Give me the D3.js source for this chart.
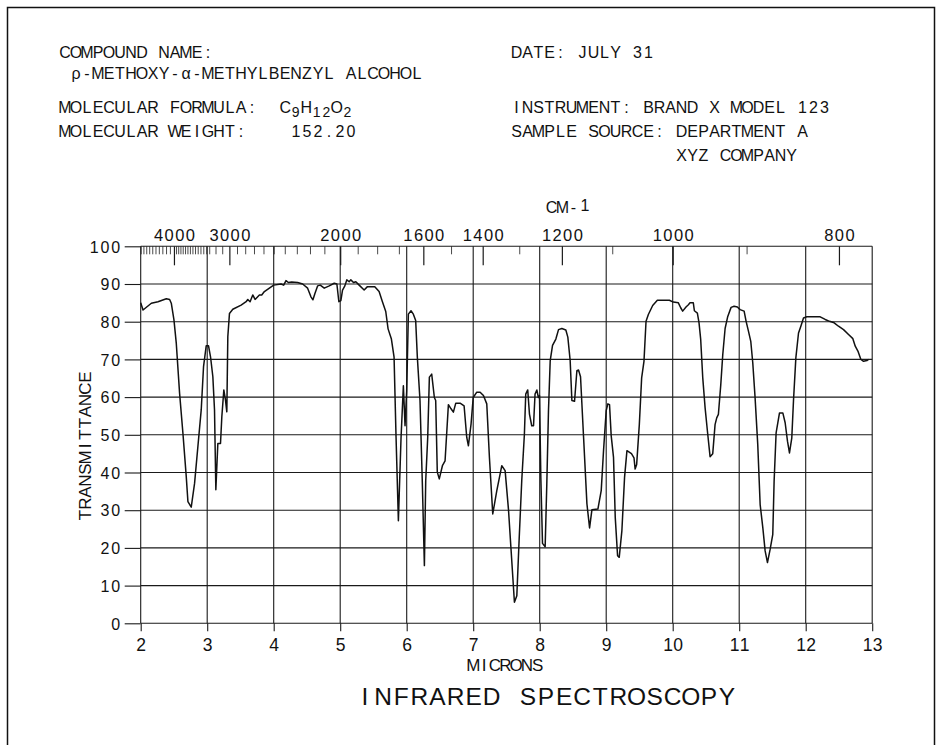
<!DOCTYPE html>
<html>
<head>
<meta charset="utf-8">
<script src="https://cdn.jsdelivr.net/npm/d3@7"></script>
<style>
body{margin:0;background:#fff}
svg{display:block}
text{font-family:"Liberation Sans",Arial,Helvetica,sans-serif;fill:#111}
</style>
</head>
<body>
<svg id="c" width="941" height="745"></svg>
<script>
// ---------------- data ----------------
const microns = [
 2.00,2.035,2.16,2.26,2.385,2.435,2.46,2.50,2.535,2.585,
 2.635,2.685,2.71,2.76,2.81,2.86,2.91,2.945,2.985,3.02,
 3.05,3.085,3.11,3.13,3.16,3.20,3.22,3.25,3.275,3.295,
 3.31,3.335,3.385,3.51,3.585,3.61,3.645,3.685,3.72,3.785,
 3.82,3.86,3.935,4.00,4.11,4.15,4.185,4.22,4.27,4.36,
 4.435,4.51,4.56,4.59,4.62,4.66,4.70,4.76,4.835,4.91,
 4.95,4.98,5.01,5.035,5.07,5.10,5.135,5.16,5.20,5.235,
 5.285,5.36,5.41,5.52,5.585,5.635,5.685,5.72,5.77,5.81,
 5.84,5.875,5.915,5.95,5.975,6.00,6.025,6.065,6.10,6.135,
 6.16,6.20,6.235,6.266,6.286,6.316,6.341,6.376,6.416,6.436,
 6.46,6.49,6.537,6.577,6.627,6.667,6.702,6.738,6.803,6.863,
 6.903,6.928,6.968,7.00,7.054,7.104,7.154,7.204,7.244,7.294,
 7.355,7.43,7.48,7.53,7.57,7.62,7.656,7.69,7.73,7.77,
 7.79,7.82,7.846,7.88,7.907,7.93,7.957,7.98,7.997,8.017,
 8.042,8.082,8.107,8.132,8.158,8.193,8.243,8.283,8.333,8.393,
 8.423,8.458,8.484,8.524,8.559,8.584,8.614,8.66,8.71,8.75,
 8.785,8.875,8.925,8.96,9.00,9.025,9.05,9.075,9.11,9.136,
 9.171,9.196,9.236,9.276,9.312,9.38,9.418,9.435,9.458,9.498,
 9.533,9.568,9.599,9.634,9.699,9.769,9.86,9.95,10.01,10.085,
 10.12,10.15,10.20,10.236,10.26,10.31,10.326,10.371,10.396,10.421,
 10.452,10.487,10.522,10.562,10.602,10.637,10.662,10.687,10.723,10.753,
 10.788,10.828,10.878,10.923,10.973,11.013,11.074,11.104,11.139,11.174,
 11.204,11.239,11.279,11.315,11.355,11.39,11.425,11.465,11.505,11.525,
 11.555,11.606,11.656,11.691,11.726,11.756,11.791,11.816,11.852,11.892,
 11.927,11.967,12.017,12.218,12.293,12.358,12.428,12.493,12.569,12.644,
 12.709,12.745,12.785,12.83,12.87,12.92,12.945
];
const transmittance = [
 85.0,83.1,84.9,85.3,86.1,85.9,84.9,80.5,74.3,61.0,
 50.4,38.9,32.3,30.8,37.1,46.9,56.6,68.1,73.6,73.6,
 70.7,65.4,56.6,35.4,47.7,47.7,54.8,61.9,59.2,56.1,
 76.0,82.2,83.3,84.4,85.3,85.9,85.3,87.1,85.9,87.1,
 87.1,88.0,88.9,89.7,90.0,89.7,90.9,90.4,90.5,90.4,
 90.0,88.9,86.6,85.8,87.5,89.5,89.7,88.9,89.5,90.2,
 90.0,85.3,85.6,88.4,89.5,91.1,90.6,91.1,90.4,90.6,
 89.7,88.4,89.3,89.3,88.0,85.3,82.7,78.1,75.4,70.6,
 49.3,27.2,49.3,63.0,52.4,61.7,82.0,82.9,82.0,80.3,
 70.6,59.1,37.2,15.3,37.8,49.3,65.3,66.1,59.9,59.1,
 40.1,38.3,41.8,43.1,58.0,56.9,56.0,58.4,58.4,57.7,
 49.3,47.1,52.9,59.9,61.3,61.3,60.4,58.2,44.0,29.0,
 35.2,41.8,40.5,30.3,19.3,5.6,7.3,21.9,37.8,50.2,
 60.8,61.9,55.5,52.4,52.4,60.8,61.9,59.9,60.4,38.7,
 21.2,20.3,37.0,56.4,69.7,73.7,75.4,77.9,78.2,77.8,
 75.9,69.7,59.1,58.9,67.0,67.2,65.4,49.3,31.7,25.3,
 30.1,30.3,35.2,45.8,56.4,58.2,58.0,49.8,44.0,28.1,
 17.9,17.5,24.6,38.7,45.8,45.0,43.9,40.9,42.1,52.7,
 65.1,69.5,80.1,81.9,84.3,85.7,85.7,85.7,85.2,85.0,
 83.7,82.8,83.9,84.5,85.0,85.0,82.9,82.3,79.7,75.3,
 65.1,57.2,51.0,44.2,45.0,52.7,54.5,55.4,63.3,71.3,
 78.2,81.4,83.8,84.1,83.9,83.2,82.8,80.1,77.5,74.8,
 69.1,59.8,47.4,31.5,25.4,19.2,16.1,19.6,23.6,37.7,
 50.5,55.8,55.8,53.2,48.3,45.2,49.2,58.9,70.4,77.0,
 78.8,81.0,81.3,81.3,80.6,80.1,79.7,78.8,77.9,76.6,
 75.5,73.5,72.2,70.0,69.5,69.7,70.0
];
const micronTicks = [2,3,4,5,6,7,8,9,10,11,12,13];
const transTicks = [0,10,20,30,40,50,60,70,80,90,100];
const wavenumberLabels = [4000,3000,2000,1600,1400,1200,1000,800];
const wavenumberMinor = d3.range(5000, 899, -100)
  .concat(d3.range(3950, 3300, -100))
  .filter(w => !wavenumberLabels.includes(w));

const headerLeft = ["COMPOUND NAME:", "\u03C1-METHOXY-\u03B1-METHYLBENZYL ALCOHOL", "MOLECULAR FORMULA:", "MOLECULAR WEIGHT:"];
const formula = [["C",0],["9",1],["H",0],["1",1],["2",1],["O",0],["2",1]];
const weight = "152.20";
const headerRight = ["DATE: JULY 31", "INSTRUMENT: BRAND X MODEL 123", "SAMPLE SOURCE: DEPARTMENT A", "XYZ COMPANY"];
const titles = {top:"CM-", topSup:"1", x:"MICRONS", y:"TRANSMITTANCE", main:"INFRARED SPECTROSCOPY"};

// ---------------- drawing ----------------
const W = 941, H = 745;
const svg = d3.select("#c");
svg.append("rect").attr("width", W).attr("height", H).attr("fill", "#fff");
svg.append("rect").attr("x", 7.5).attr("y", 7.5).attr("width", 927).attr("height", 780)
  .attr("fill", "none").attr("stroke", "#111").attr("stroke-width", 1.5);

const x = d3.scaleLinear().domain([2, 13]).range([140.7, 872.2]);
const y = d3.scaleLinear().domain([0, 100]).range([623.3, 246.3]);

// fixed-pitch (plotter style) text: each glyph centred in its own cell
function mono(sel, str, x0, pitch, align) {
  const chars = Array.from(str), n = chars.length;
  const left = align === "start" ? x0 : align === "end" ? x0 - n * pitch : x0 - n * pitch / 2;
  sel.text(str)
    .attr("x", chars.map((c, i) => (left + (i + 0.5) * pitch).toFixed(2)).join(" "))
    .attr("text-anchor", "middle")
    .attr("xml:space", "preserve");
  return sel;
}

// grid
const grid = svg.append("g").attr("stroke", "#1a1a1a").attr("stroke-width", 1.1);
grid.selectAll("line.h").data(transTicks).join("line").attr("class", "h")
  .attr("x1", x(2)).attr("x2", x(13)).attr("y1", d => y(d)).attr("y2", d => y(d));
grid.selectAll("line.v").data(micronTicks).join("line").attr("class", "v")
  .attr("y1", y(0)).attr("y2", y(100)).attr("x1", d => x(d)).attr("x2", d => x(d));

// left axis
const gl = svg.append("g").attr("transform", `translate(${x(2)},0)`).attr("color", "#1a1a1a")
  .call(d3.axisLeft(y).tickValues(transTicks).tickSize(16).tickPadding(4));
gl.select(".domain").remove();
gl.selectAll(".tick line").attr("stroke-width", 1.1);
gl.selectAll(".tick text").attr("font-size", 16).attr("dy", "0.36em")
  .each(function(d) { mono(d3.select(this), String(d), -19.5, 10.8, "end"); });

// bottom axis
const gb = svg.append("g").attr("transform", `translate(0,${y(0)})`).attr("color", "#1a1a1a")
  .call(d3.axisBottom(x).tickValues(micronTicks).tickSize(8));
gb.select(".domain").remove();
gb.selectAll(".tick line").attr("stroke-width", 1.1);
gb.selectAll(".tick text").attr("font-size", 17.5).attr("dy", 0).attr("y", 28)
  .each(function(d) { mono(d3.select(this), String(d), 0, 10, "middle"); });

// top axis (wavenumber, cm-1)
const gtMinor = svg.append("g").attr("transform", `translate(0,${y(100)})`).attr("color", "#1a1a1a")
  .call(d3.axisTop(x).tickValues(wavenumberMinor.map(w => 1e4 / w)).tickSize(-8).tickFormat(""));
gtMinor.select(".domain").remove();
gtMinor.selectAll(".tick line").attr("stroke-width", 0.8);
const gt = svg.append("g").attr("transform", `translate(0,${y(100)})`).attr("color", "#1a1a1a")
  .call(d3.axisTop(x).tickValues(wavenumberLabels.map(w => 1e4 / w)).tickSize(-19)
    .tickFormat(d => String(Math.round(1e4 / d))));
gt.select(".domain").remove();
gt.selectAll(".tick line").attr("stroke-width", 1.2);
gt.selectAll(".tick text").attr("font-size", 16.5).attr("dy", 0).attr("y", -5)
  .each(function() { const t = d3.select(this); mono(t, t.text(), 0, 10.6, "middle"); });

// spectrum
const pts = d3.zip(microns, transmittance);
svg.append("path").datum(pts)
  .attr("fill", "none").attr("stroke", "#111").attr("stroke-width", 1.5).attr("stroke-linejoin", "round")
  .attr("d", d3.line().x(d => x(d[0])).y(d => y(d[1])));

// axis titles
mono(svg.append("text").attr("y", 213).attr("font-size", 16), titles.top, 546, 11, "start");
svg.append("text").attr("x", 585).attr("y", 211).attr("font-size", 16).attr("text-anchor", "middle").text(titles.topSup);
mono(svg.append("text").attr("y", 670.5).attr("font-size", 17), titles.x, 505.5, 10.7, "middle");
mono(svg.append("g").attr("transform", "translate(91,446) rotate(-90)").append("text").attr("y", 0).attr("font-size", 17),
  titles.y, 0, 11.5, "middle");
mono(svg.append("text").attr("y", 705).attr("font-size", 24.5), titles.main, 546, 18.1, "middle");

// header
const hs = 16, pitch = 11;
const rows = [57.5, 78.5, 112.5, 136.5, 160.5];
const colL = 59.5, colR = 511;
mono(svg.append("text").attr("y", rows[0]).attr("font-size", hs), headerLeft[0], colL, pitch, "start");
mono(svg.append("text").attr("y", rows[1]).attr("font-size", hs), headerLeft[1], colL + pitch, pitch, "start");
mono(svg.append("text").attr("y", rows[2]).attr("font-size", hs), headerLeft[2], colL, pitch, "start");
mono(svg.append("text").attr("y", rows[3]).attr("font-size", hs), headerLeft[3], colL, pitch, "start");
mono(svg.append("text").attr("y", rows[3]).attr("font-size", hs), weight, colL + 21 * pitch, pitch, "start");
// formula with subscripts
{
  let cur = colL + 20 * pitch;
  const t = svg.append("text").attr("font-size", hs);
  formula.forEach(([ch, sub]) => {
    const w = sub ? 9.6 : 11.4;
    t.append("tspan").attr("x", cur + w / 2).attr("y", rows[2] + (sub ? 4 : 0))
      .attr("font-size", sub ? 14 : hs).attr("text-anchor", "middle").text(ch);
    cur += w;
  });
}
mono(svg.append("text").attr("y", rows[0]).attr("font-size", hs), headerRight[0], colR, pitch, "start");
mono(svg.append("text").attr("y", rows[2]).attr("font-size", hs), headerRight[1], colR, pitch, "start");
mono(svg.append("text").attr("y", rows[3]).attr("font-size", hs), headerRight[2], colR, pitch, "start");
mono(svg.append("text").attr("y", rows[4]).attr("font-size", hs), headerRight[3], colR + 15 * pitch, pitch, "start");
</script>
</body>
</html>
